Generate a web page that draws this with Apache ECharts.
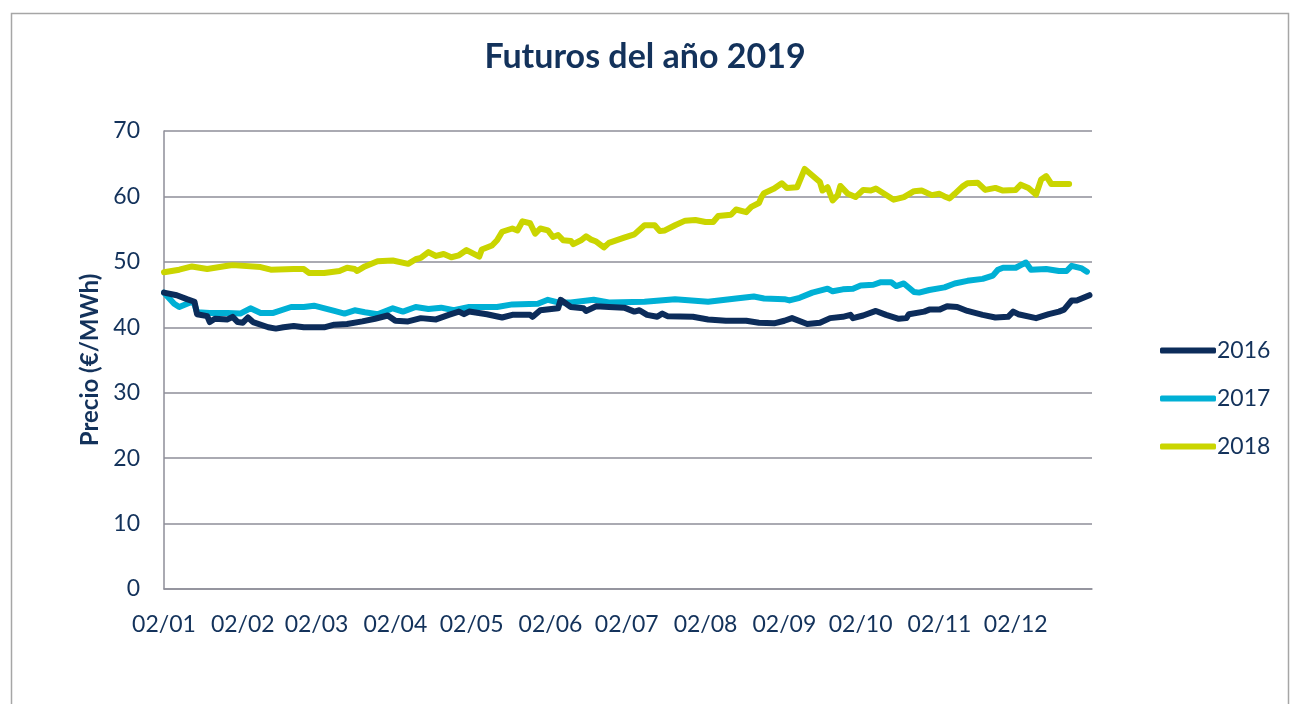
<!DOCTYPE html>
<html>
<head>
<meta charset="utf-8">
<script src="https://cdn.jsdelivr.net/npm/echarts@6/dist/echarts.min.js"></script>
<style>html,body{margin:0;padding:0;background:#fff;}#c{width:1290px;height:704px;}</style>
</head>
<body>
<div id="c"></div>
<script>
// Tick labels (day/month) on the date axis
const tickLabels = ['02/01','02/02','02/03','02/04','02/05','02/06','02/07','02/08','02/09','02/10','02/11','02/12'];
const seriesNames = ['2016','2017','2018'];

// Day offsets from 02/01 and prices (€/MWh)
const days2016 = [0,5,9,12,13,17,18,20,25,27,29,31,33,35,41,44,47,51,55,59,63,67,72,78,83,88,91,96,101,107,112,116,118,120,127,133,137,144,145,148,155,156,160,165,166,170,175,181,185,187,190,194,196,198,208,214,221,229,234,240,244,247,253,258,262,267,270,271,275,280,284,289,292,293,299,301,305,308,312,316,322,327,332,334,336,343,348,352,354,357,359,364];
const vals2016 = [45.3,44.9,44.3,43.9,42.0,41.7,40.8,41.3,41.2,41.6,40.8,40.7,41.5,40.8,40.0,39.8,40.0,40.2,40.0,40.0,40.0,40.4,40.5,40.9,41.3,41.8,41.0,40.9,41.4,41.2,41.9,42.4,42.0,42.4,42.0,41.5,41.9,41.9,41.6,42.6,42.9,44.2,43.1,42.9,42.5,43.2,43.1,43.0,42.4,42.6,41.9,41.6,42.1,41.7,41.6,41.2,41.0,41.0,40.7,40.6,41.0,41.4,40.5,40.7,41.4,41.6,41.9,41.4,41.8,42.5,41.9,41.3,41.4,42.0,42.4,42.7,42.7,43.2,43.1,42.5,41.9,41.5,41.6,42.4,42.0,41.4,42.0,42.4,42.7,44.1,44.1,44.9];

const days2017 = [0,4,6,11,12,13,18,25,30,34,38,43,50,55,59,67,71,75,79,84,90,94,99,104,109,114,120,131,137,147,151,155,160,169,175,189,201,214,225,232,236,244,246,250,255,261,263,267,271,274,279,282,286,288,291,295,297,301,307,311,316,322,326,328,330,335,337,339,341,347,352,355,357,361,363];
const vals2017 = [45.3,43.6,43.1,43.9,43.5,42.3,42.2,42.2,42.1,42.9,42.2,42.2,43.1,43.1,43.3,42.5,42.1,42.6,42.3,42.0,42.9,42.4,43.1,42.8,43.0,42.6,43.1,43.1,43.5,43.6,44.2,43.8,43.8,44.2,43.8,43.9,44.3,43.9,44.4,44.7,44.4,44.3,44.1,44.5,45.3,45.9,45.5,45.8,45.9,46.4,46.5,46.9,46.9,46.3,46.7,45.4,45.3,45.7,46.1,46.7,47.1,47.4,47.9,48.8,49.1,49.1,49.5,49.9,48.8,48.9,48.6,48.6,49.4,49.0,48.5];

const days2018 = [0,6,11,17,25,27,38,42,51,55,57,63,69,72,75,76,79,84,90,96,99,101,104,107,110,113,116,119,124,125,129,131,133,137,139,141,144,146,148,151,153,155,157,160,161,164,166,168,170,173,175,181,185,189,193,195,197,201,205,209,213,216,218,223,225,229,231,234,235,236,240,243,245,249,252,255,258,259,261,263,265,266,269,272,275,278,280,287,291,295,298,302,305,307,309,311,314,316,320,323,327,330,335,337,340,343,345,347,349,356];
const vals2018 = [48.4,48.8,49.3,48.9,49.4,49.5,49.2,48.8,48.9,48.9,48.3,48.3,48.6,49.1,48.9,48.6,49.3,50.1,50.2,49.7,50.4,50.6,51.5,50.9,51.2,50.7,51.0,51.8,50.8,51.9,52.5,53.3,54.6,55.1,54.8,56.2,55.9,54.3,55.1,54.8,53.8,54.1,53.3,53.2,52.7,53.3,53.9,53.4,53.1,52.2,52.9,53.7,54.2,55.6,55.6,54.7,54.8,55.6,56.3,56.4,56.1,56.1,57.0,57.2,58.0,57.6,58.4,59.0,59.9,60.5,61.2,62.0,61.3,61.4,64.2,63.2,62.2,60.9,61.4,59.4,60.2,61.6,60.4,59.9,61.0,60.9,61.2,59.5,59.9,60.8,60.9,60.2,60.4,60.0,59.7,60.4,61.5,62.0,62.1,61.0,61.3,60.9,61.0,61.8,61.3,60.3,62.6,63.1,61.9,61.9];

const colors = ['#0C2C5A','#00B0D5','#CAD500'];
const textColor = '#13325B';
const FONT = 'Lato, "Noto Sans", sans-serif';

const DAY = 86400000;
const base = new Date(2016, 0, 2).getTime();
function dayOf(label){ const p = label.split('/'); return Math.round((new Date(2016, +p[1]-1, +p[0]).getTime() - base) / DAY); }
function labelOf(d){ const t = new Date(2016, 0, 2 + Math.round(d)); return String(t.getDate()).padStart(2,'0') + '/' + String(t.getMonth()+1).padStart(2,'0'); }
function pairs(days, vals){ return days.map((d,i)=>[d, vals[i]]); }
const tickDays = tickLabels.map(dayOf);

const chart = echarts.init(document.getElementById('c'));
chart.setOption({
  animation: false,
  backgroundColor: '#fff',
  textStyle: { fontFamily: FONT },
  title: {
    text: 'Futuros del año 2019', left: 'center', top: 35,
    textStyle: { fontFamily: FONT, fontSize: 34, fontWeight: 'bold', color: textColor }
  },
  graphic: [{
    type: 'rect', left: 9, top: 11, silent: true,
    shape: { width: 1277, height: 700 },
    style: { fill: 'none', stroke: '#A6A6A6', lineWidth: 1.5 }
  }],
  legend: {
    orient: 'vertical', left: 1155, top: 334, itemGap: 25,
    itemWidth: 56, itemHeight: 6, icon: 'roundRect',
    data: seriesNames,
    textStyle: { fontFamily: FONT, fontSize: 23, color: textColor, padding: [0,0,0,-4] }
  },
  grid: { left: 164, right: 198, top: 131, bottom: 115, containLabel: false },
  xAxis: {
    type: 'value', min: 0, max: 365,
    axisLine: { show: true, onZero: false, lineStyle: { color: '#8E8E99', width: 1.5 } },
    axisTick: { show: false },
    splitLine: { show: false },
    axisLabel: {
      customValues: tickDays, hideOverlap: false, showMinLabel: true,
      margin: 24, fontFamily: FONT, fontSize: 23, color: textColor,
      formatter: v => labelOf(v)
    }
  },
  yAxis: {
    type: 'value', min: 0, max: 70, interval: 10,
    name: 'Precio (€/MWh)', nameLocation: 'middle', nameGap: 60,
    nameTextStyle: { fontFamily: FONT, fontSize: 24, fontWeight: 'bold', color: textColor },
    axisLine: { show: true, lineStyle: { color: '#8E8E99', width: 1.5 } },
    axisTick: { show: false },
    splitLine: { lineStyle: { color: '#8E8E99', width: 1.5 } },
    axisLabel: { margin: 24, fontFamily: FONT, fontSize: 23, color: textColor }
  },
  series: [
    { name: seriesNames[0], type: 'line', data: pairs(days2016, vals2016) },
    { name: seriesNames[1], type: 'line', data: pairs(days2017, vals2017) },
    { name: seriesNames[2], type: 'line', data: pairs(days2018, vals2018) }
  ].map((s,i) => Object.assign(s, {
    showSymbol: false, symbol: 'none', smooth: false,
    color: colors[i],
    lineStyle: { width: 6, color: colors[i], cap: 'round', join: 'round' },
    z: 3 - i
  }))
});
</script>
</body>
</html>
